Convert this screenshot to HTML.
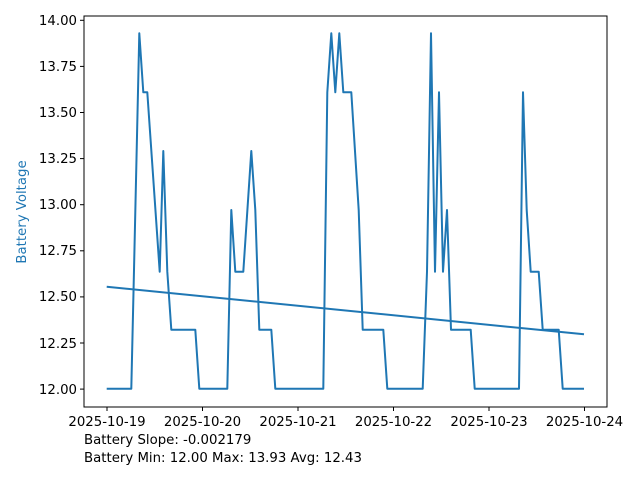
<!DOCTYPE html>
<html><head><style>
body{margin:0;background:#fff;}
svg text{font-family:"DejaVu Sans","Liberation Sans",sans-serif;font-size:13.3px;fill:#000;}
</style></head><body>
<svg width="640" height="480" xmlns="http://www.w3.org/2000/svg">
<rect width="640" height="480" fill="#fff"/>
<g stroke="#1f77b4" stroke-width="2" fill="none" stroke-linejoin="round">
<polyline points="106.7,388.7 131.3,388.7 134,270 139.3,33.3 143.3,92.3 147.3,92.3 159.7,271.7 163.3,151 167.3,271.7 171.3,329.7 195.3,329.7 199.3,388.7 227.3,388.7 231.3,210 235.3,271.7 243.3,271.7 251.3,151 255.3,210 259.3,329.7 271.3,329.7 275.3,388.7 323.3,388.7 327.3,92.3 331.3,33.3 335.3,92.3 339.3,33.3 343.3,92.3 351.3,92.3 358.7,210 362.7,329.7 383.3,329.7 387.3,388.7 422.7,388.7 427,271.7 431,33.3 435,271.7 439,92.3 443,271.7 447,210 451,329.7 470.7,329.7 474.7,388.7 519,388.7 523,92.3 526.7,210 530.7,271.7 538.7,271.7 542.7,329.7 558.7,329.7 562.7,388.7 584,388.7"/>
<line x1="106.7" y1="286.7" x2="584" y2="334.3"/>
</g>
<rect x="84" y="16" width="523" height="391" fill="none" stroke="#000" stroke-width="1"/>
<g stroke="#000" stroke-width="1">
<line x1="80" y1="20.3" x2="84" y2="20.3"/><line x1="80" y1="66.4" x2="84" y2="66.4"/><line x1="80" y1="112.5" x2="84" y2="112.5"/><line x1="80" y1="158.6" x2="84" y2="158.6"/><line x1="80" y1="204.7" x2="84" y2="204.7"/><line x1="80" y1="250.8" x2="84" y2="250.8"/><line x1="80" y1="296.9" x2="84" y2="296.9"/><line x1="80" y1="343" x2="84" y2="343"/><line x1="80" y1="389.1" x2="84" y2="389.1"/>
<line x1="107" y1="407" x2="107" y2="411"/><line x1="202.5" y1="407" x2="202.5" y2="411"/><line x1="298" y1="407" x2="298" y2="411"/><line x1="393.5" y1="407" x2="393.5" y2="411"/><line x1="489" y1="407" x2="489" y2="411"/><line x1="584.5" y1="407" x2="584.5" y2="411"/>
</g>
<g text-anchor="end">
<text x="77" y="25">14.00</text><text x="77" y="71">13.75</text><text x="77" y="117">13.50</text><text x="77" y="163">13.25</text><text x="77" y="209">13.00</text><text x="77" y="255">12.75</text><text x="77" y="301">12.50</text><text x="77" y="348">12.25</text><text x="77" y="394">12.00</text>
</g>
<g text-anchor="middle">
<text x="107" y="426">2025-10-19</text><text x="202.5" y="426">2025-10-20</text><text x="298" y="426">2025-10-21</text><text x="393.5" y="426">2025-10-22</text><text x="489" y="426">2025-10-23</text><text x="584.5" y="426">2025-10-24</text>
</g>
<text x="26" y="212" text-anchor="middle" transform="rotate(-90 26 212)" style="fill:#1f77b4">Battery Voltage</text>
<text x="84" y="444">Battery Slope: -0.002179</text>
<text x="84" y="462">Battery Min: 12.00 Max: 13.93 Avg: 12.43</text>
</svg>
</body></html>
